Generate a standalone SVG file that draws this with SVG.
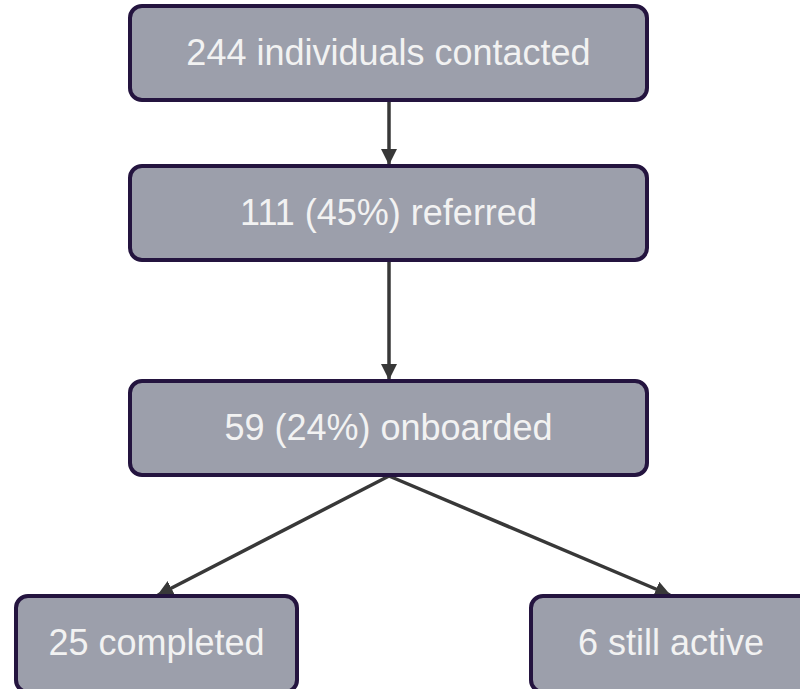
<svg xmlns="http://www.w3.org/2000/svg" width="800" height="689" viewBox="0 0 800 689">
<style>
.box{fill:#9c9fab;stroke:#24143f;stroke-width:4}
.lbl{font-family:"Liberation Sans",Arial,sans-serif;font-size:36px;fill:#f2f2f2;text-anchor:middle}
.con{stroke:#383838;stroke-width:3.5;fill:none;marker-end:url(#ah)}
</style>
<defs>
<marker id="ah" markerWidth="16" markerHeight="16" refX="15" refY="8" orient="auto" markerUnits="userSpaceOnUse">
<path d="M0,0 L16,8 L0,16 Z" fill="#383838"/>
</marker>
</defs>
<rect width="800" height="689" fill="#ffffff"/>
<g id="connectors">
<line class="con" x1="389" y1="101" x2="389" y2="164"/>
<line class="con" x1="389" y1="261" x2="389" y2="379"/>
<line class="con" x1="389" y1="476" x2="158" y2="595"/>
<line class="con" x1="389" y1="476" x2="670" y2="595"/>
</g>
<g id="n1">
<rect class="box" x="130" y="6" width="517" height="94" rx="12"/>
<text class="lbl" x="388.5" y="65">244 individuals contacted</text>
</g>
<g id="n2">
<rect class="box" x="130" y="166" width="517" height="94" rx="12"/>
<text class="lbl" x="388.5" y="225">111 (45%) referred</text>
</g>
<g id="n3">
<rect class="box" x="130" y="381" width="517" height="94" rx="12"/>
<text class="lbl" x="388.5" y="440">59 (24%) onboarded</text>
</g>
<g id="n4">
<rect class="box" x="16" y="596" width="281" height="96" rx="12"/>
<text class="lbl" x="156.5" y="655">25 completed</text>
</g>
<g id="n5">
<rect class="box" x="531" y="596" width="281" height="96" rx="12"/>
<text class="lbl" x="671" y="655">6 still active</text>
</g>
</svg>
